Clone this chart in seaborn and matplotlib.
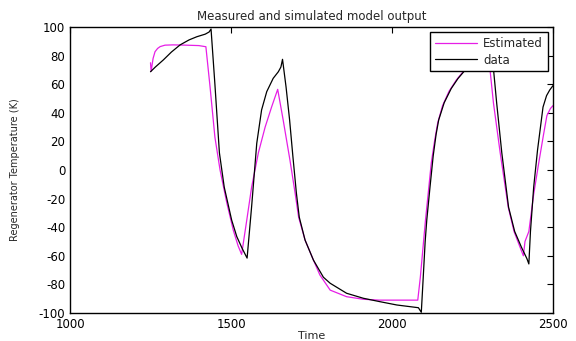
import numpy as np
import pandas as pd
import matplotlib
matplotlib.use("Agg")
import matplotlib.pyplot as plt
import seaborn as sns

# Values
est_time = [1250, 1252, 1258, 1264, 1272, 1280, 1295, 1320, 1360, 1400, 1422,
            1435, 1450, 1466, 1487, 1507, 1522, 1533,
            1549, 1564, 1585, 1606, 1626, 1645,
            1662, 1683, 1699, 1710, 1730, 1756, 1776, 1808, 1859, 1911, 1960, 2020, 2080,
            2088, 2096, 2104, 2113, 2122, 2132, 2142, 2157, 2177, 2200, 2220, 2237, 2260, 2280, 2294,
            2304, 2315, 2336, 2361, 2379, 2396, 2408,
            2413, 2425, 2440, 2455, 2470, 2481, 2492, 2500]
est_temp = [75, 69, 78, 82.7, 85, 86.3, 87.3, 87.5, 87.3, 87, 86.2,
            58, 23, 0, -23, -42, -53, -59,
            -35, -12, 12, 30, 44, 56.4,
            35, 7, -16, -33, -49, -63, -73.4, -84, -88.6, -90.4, -91, -91, -91,
            -75, -55, -35, -15, 5, 20, 33, 45, 55, 63, 68.5, 72, 76, 78, 77,
            71, 47, 12, -26, -43, -53, -60,
            -50, -43, -17, 4, 24, 38, 43, 45]

data_time = [1250, 1265, 1290, 1315, 1342, 1370, 1394, 1420, 1432, 1438,
             1450, 1464, 1479, 1502, 1518, 1535, 1550,
             1564, 1580, 1595, 1611, 1631, 1647, 1655, 1660,
             1671, 1682, 1692, 1703, 1712, 1730, 1756, 1787, 1808, 1859, 1911, 1963, 2015, 2082, 2091,
             2097, 2103, 2108, 2118, 2128, 2137, 2145, 2162, 2184, 2205, 2224, 2240, 2265, 2290, 2308,
             2315, 2325, 2341, 2362, 2381, 2402, 2419, 2425,
             2430, 2440, 2452, 2469, 2480, 2490, 2500]
data_temp = [68.7, 72, 77, 82.5, 87.5, 91, 93.2, 95, 96.5, 98.6,
             60, 12, -12, -35, -46.6, -55, -61.6,
             -25.7, 18.7, 42, 54.8, 64.1, 68.7, 72, 77.4,
             58, 35, 10, -16, -33, -49, -63, -75, -79.2, -86.2, -89.7, -92.1, -94.4, -96.3, -99.5,
             -75, -50, -35, -12, 10, 25, 35, 47, 57, 64, 69, 72, 77, 79, 80,
             71, 47, 12, -26, -43, -54, -62, -65.7,
             -43, -12, 14, 44, 52, 56, 59]

df = pd.concat([
    pd.DataFrame({"Time": est_time, "Temp": est_temp, "series": "Estimated"}),
    pd.DataFrame({"Time": data_time, "Temp": data_temp, "series": "data"}),
], ignore_index=True)

sns.set_style("white")
plt.rcParams["font.family"] = ["DejaVu Sans"]
plt.rcParams["axes.unicode_minus"] = False

fig = plt.figure(figsize=(5.76, 3.41), dpi=100)
ax = fig.add_axes([70 / 576, 28 / 341, 483 / 576, 286 / 341])

sns.lineplot(data=df, x="Time", y="Temp", hue="series",
             palette={"Estimated": "#e61ee6", "data": "black"},
             estimator=None, sort=False, linewidth=0.9, ax=ax)

ax.set_xlim(1000, 2500)
ax.set_ylim(-100, 100)
ax.set_xticks(np.arange(1000, 2501, 500))
ax.set_yticks(np.arange(-100, 101, 20))
ax.tick_params(direction="in", length=4, width=0.8, labelsize=8.5,
               top=True, right=True, pad=3.5, colors="black")
for s in ax.spines.values():
    s.set_visible(True)
    s.set_color("black")
    s.set_linewidth(1.0)

ax.set_title("Measured and simulated model output", fontsize=8.5, pad=5)
ax.set_xlabel("Time", fontsize=8)
ax.xaxis.set_label_coords(0.5, -0.063)
ax.set_ylabel("Regenerator Temperature (K)", fontsize=7)
ax.yaxis.set_label_coords(-0.104, 0.5)

leg = ax.legend(loc="upper right", fontsize=8.5, frameon=True, fancybox=False,
                framealpha=1, edgecolor="black", handlelength=3.6,
                borderaxespad=0.45, borderpad=0.4, labelspacing=0.3,
                handletextpad=0.5)
leg.get_frame().set_linewidth(1.0)
leg.set_title(None)

fig.savefig("out.png", dpi=100)
